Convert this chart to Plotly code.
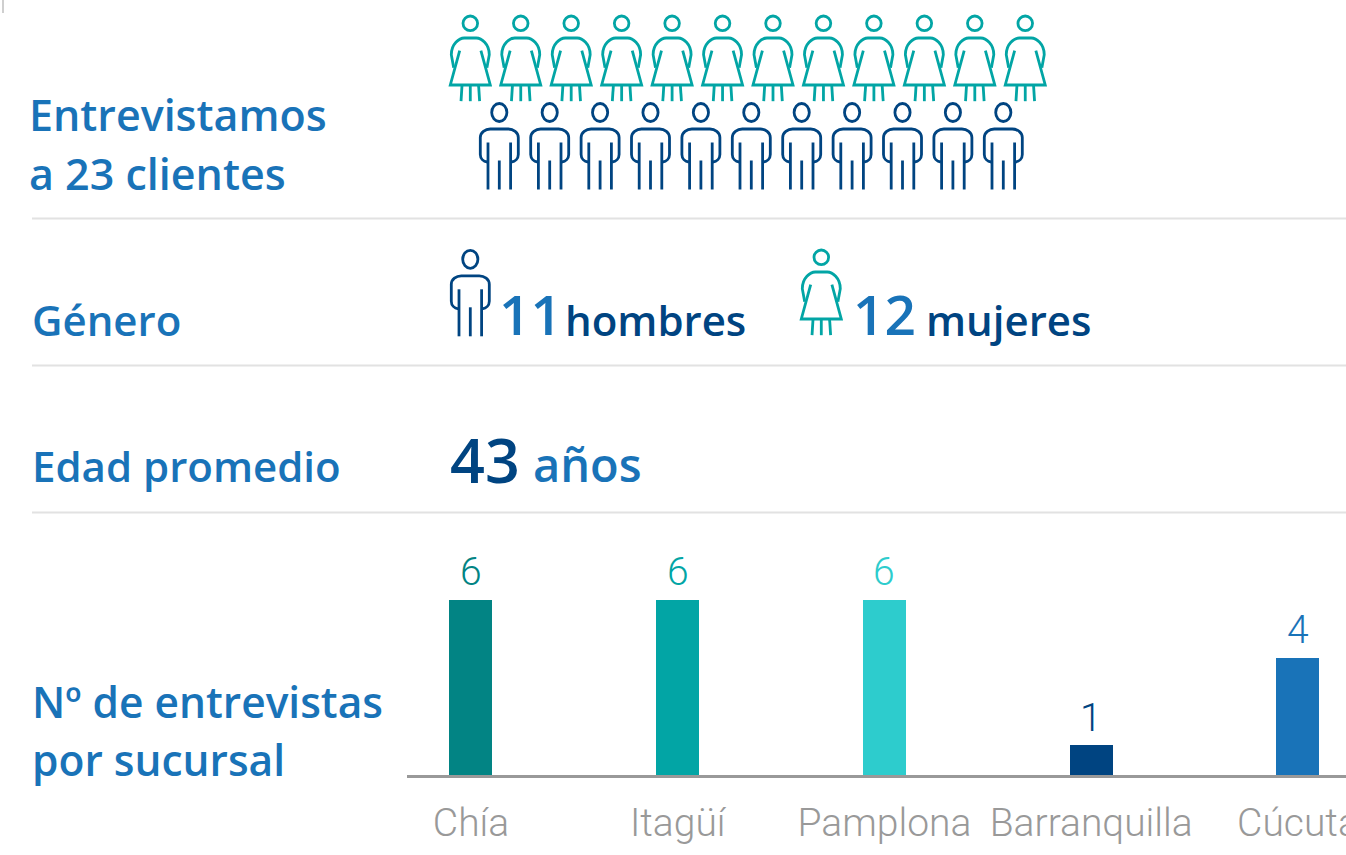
import plotly.graph_objects as go

W, H = 1346, 855
BLUE, NAVY, AQUA = "#1973B8", "#004481", "#02A5A5"

# ---- data ----
sucursales = ["Chía", "Itagüí", "Pamplona", "Barranquilla", "Cúcuta"]
entrevistas = [6, 6, 6, 1, 4]
colores = ["#028484", "#02A5A5", "#2DCCCD", "#004481", "#1973B8"]
n_hombres = 11
n_mujeres = 12
edad = 43

# ---- icon outlines, relative to (centre x, top y) ----
def head(cy, rx, ry):
    k = 0.5523
    return (f"M {-rx} {cy} C {-rx} {cy-k*ry} {-k*rx} {cy-ry} 0 {cy-ry} "
            f"C {k*rx} {cy-ry} {rx} {cy-k*ry} {rx} {cy} "
            f"C {rx} {cy+k*ry} {k*rx} {cy+ry} 0 {cy+ry} "
            f"C {-k*rx} {cy+ry} {-rx} {cy+k*ry} {-rx} {cy} Z")

WOMAN = [
    head(8.6, 7.3, 7.3),
    [("M", -16.6, 53), ("L", -19, 40), ("C", -19, 29, -11, 23.3, -6, 23.3), ("L", 6, 23.3),
     ("C", 11, 23.3, 19, 29, 19, 40), ("L", 16.6, 53)],
    [("M", -10.6, 36), ("L", -20, 70.3), ("L", 20, 70.3), ("L", 10.6, 36)],
    [("M", -8.3, 71), ("L", -9.3, 86.5)],
    [("M", 0, 71), ("L", 0, 86.5)],
    [("M", 8.3, 71), ("L", 9.3, 86.5)],
]
MAN = [
    head(11.0, 7.6, 9.0),
    [("M", -12, 60.5), ("C", -16, 60, -19, 57, -19, 53), ("L", -19, 36),
     ("C", -19, 31, -14, 27.5, -9, 27.5), ("L", 9, 27.5),
     ("C", 14, 27.5, 19, 31, 19, 36), ("L", 19, 53), ("C", 19, 57, 16, 60, 12, 60.5)],
    [("M", -11.3, 41), ("L", -11.3, 88)],
    [("M", 0, 59), ("L", 0, 88)],
    [("M", 11.3, 41), ("L", 11.3, 88)],
]

def place(part, cx, top):
    if isinstance(part, str):
        toks = part.split()
        out, idx = [], 0
        for t in toks:
            if t.isalpha():
                out.append(t); idx = 0
            else:
                v = float(t)
                out.append(str(v + (cx if idx % 2 == 0 else top)))
                idx += 1
        return " ".join(out)
    out = []
    for seg in part:
        cmd, nums = seg[0], seg[1:]
        vals = [v + (cx if j % 2 == 0 else top) for j, v in enumerate(nums)]
        out.append(cmd + " " + " ".join(str(v) for v in vals))
    return " ".join(out)

shapes = []
def icon(kind, cx, top, color):
    for part in kind:
        shapes.append(dict(type="path", xref="x2", yref="y2", path=place(part, cx, top),
                           line=dict(color=color, width=2.8), fillcolor="rgba(0,0,0,0)",
                           layer="above"))

for i in range(n_mujeres):
    icon(WOMAN, 470.3 + i * 50.45, 14.7, AQUA)
for i in range(n_hombres):
    icon(MAN, 499.3 + i * 50.4, 101.5, NAVY)
icon(MAN, 470.3, 248.3, NAVY)
icon(WOMAN, 821.3, 248.7, AQUA)

# separators
for y in (218.5, 365.5, 512.5):
    shapes.append(dict(type="line", xref="x2", yref="y2", x0=32, x1=W, y0=y, y1=y,
                       line=dict(color="#E2E2E2", width=2)))
shapes.append(dict(type="line", xref="x2", yref="y2", x0=3, x1=3, y0=0, y1=13,
                   line=dict(color="#CFCFCF", width=2)))

HEAD = "Open Sans"
def txt(s, x, y, size, color, weight=600):
    return dict(text=s, x=x, y=y, xref="x2", yref="y2", xanchor="left", yanchor="middle",
                showarrow=False, font=dict(family=HEAD, size=size, color=color, weight=weight))

annotations = [
    txt("Entrevistamos", 26.5, 114, 43, BLUE),
    txt("a 23 clientes", 26.5, 173, 43, BLUE),
    txt("Género", 30, 319, 42, BLUE),
    txt("Edad promedio", 30, 465, 42, BLUE),
    txt("Nº de entrevistas", 30, 701, 42.5, BLUE),
    txt("por sucursal", 30, 759, 42.5, BLUE),
    txt(str(n_hombres), 497, 313.5, 55, BLUE),
    txt("hombres", 562.5, 319, 42, NAVY),
    txt(str(n_mujeres), 851, 313.5, 55, BLUE),
    txt("mujeres", 924, 319, 42, NAVY),
    txt(str(edad), 448, 459, 61, NAVY),
    txt("años", 531, 464, 47, BLUE),
]
# value labels, anchored to each bar's value on the bar axes
for cat, v, col in zip(sucursales, entrevistas, colores):
    annotations.append(dict(text=str(v), x=cat, y=v, xref="x", yref="y", xanchor="center",
                            yanchor="bottom", yshift=3, showarrow=False,
                            font=dict(family="Roboto", size=39, color=col, weight=300)))

fig = go.Figure()
fig.add_bar(x=sucursales, y=entrevistas, width=0.208, marker=dict(color=colores, line_width=0),
            hoverinfo="skip")
# invisible pixel-scale helper trace so the overlay axes exist
fig.add_scatter(x=[0, W], y=[0, H], xaxis="x2", yaxis="y2", mode="markers",
                marker=dict(opacity=0), hoverinfo="skip", showlegend=False)

fig.update_layout(
    width=W, height=H, margin=dict(l=0, r=0, t=0, b=0), autosize=False,
    paper_bgcolor="white", plot_bgcolor="rgba(0,0,0,0)", showlegend=False,
    bargap=0, shapes=shapes, annotations=annotations,
    xaxis=dict(domain=[407 / W, 1], type="category", range=[-0.3095, 4.2325],
               showline=True, linecolor="#999999", linewidth=3, showgrid=False, zeroline=False,
               ticks="", tickangle=0, automargin=False, ticklabelstandoff=11,
               tickfont=dict(family="Roboto", size=39, color="#999999", weight=300)),
    yaxis=dict(domain=[80 / H, (855 - 775 + 29.17 * 6.5) / H], range=[0, 6.5], visible=False, fixedrange=True),
    xaxis2=dict(domain=[0, 1], range=[0, W], visible=False, anchor="y2"),
    yaxis2=dict(domain=[0, 1], range=[H, 0], visible=False, anchor="x2"),
)
fig.write_html("out.html", config=dict(displayModeBar=False),
               post_script="document.body.style.margin='0';document.body.style.overflow='hidden';")
